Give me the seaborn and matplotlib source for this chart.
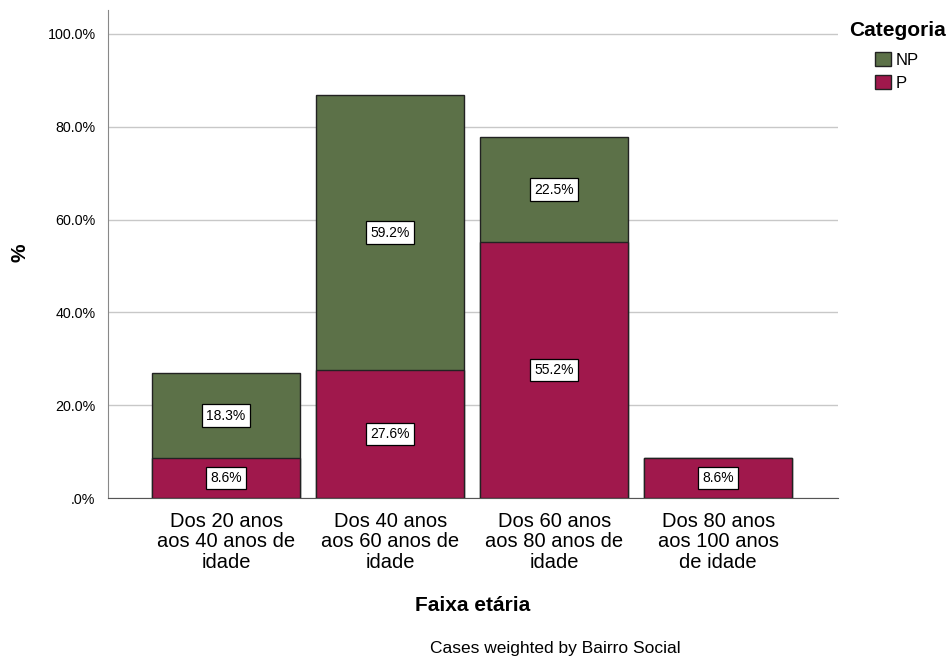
import numpy as np
import pandas as pd
import matplotlib
matplotlib.use('Agg')
import matplotlib.pyplot as plt
from matplotlib.patches import Patch
import seaborn as sns

#Data
faixas = ['Dos 20 anos\naos 40 anos de\nidade',
          'Dos 40 anos\naos 60 anos de\nidade',
          'Dos 60 anos\naos 80 anos de\nidade',
          'Dos 80 anos\naos 100 anos\nde idade']
p_vals = [8.6, 27.6, 55.2, 8.6]
np_vals = [18.3, 59.2, 22.5, 0.0]
y_ticks = [0, 20, 40, 60, 80, 100]
y_tick_labels = ['.0%', '20.0%', '40.0%', '60.0%', '80.0%', '100.0%']

green = '#5c7148'
crimson = '#a0184c'

df = pd.DataFrame({'faixa': faixas, 'P': p_vals, 'NP': np_vals})
df['total'] = df['P'] + df['NP']

sns.set_style('white')
plt.rcParams['font.family'] = ['Liberation Sans', 'DejaVu Sans']
plt.rcParams['text.color'] = 'black'
plt.rcParams['axes.labelcolor'] = 'black'
plt.rcParams['xtick.color'] = 'black'
plt.rcParams['ytick.color'] = 'black'

fig = plt.figure(figsize=(9.5, 6.57), dpi=100)
ax = fig.add_axes([0.1137, 0.242, 0.7684, 0.743])

#Stacked bars: total first (NP on top), then P over it
sns.barplot(data=df, x='faixa', y='total', color=green, width=0.9,
            edgecolor='#222222', linewidth=1, saturation=1, ax=ax, zorder=3)
sns.barplot(data=df, x='faixa', y='P', color=crimson, width=0.9,
            edgecolor='#222222', linewidth=1, saturation=1, ax=ax, zorder=4)

#Labels in each segment
box = dict(boxstyle='square,pad=0.3', fc='white', ec='black', lw=0.9)
for i, row in df.iterrows():
    if row['P'] > 0:
        ax.text(i, row['P'] / 2, f"{row['P']:.1f}%", ha='center', va='center',
                fontsize=10, bbox=box, zorder=5)
    if row['NP'] > 0:
        ax.text(i, row['P'] + row['NP'] / 2, f"{row['NP']:.1f}%", ha='center',
                va='center', fontsize=10, bbox=box, zorder=5)

ax.set_xlim(-0.72, 3.73)
ax.set_ylim(0, 105.2)
ax.set_yticks(y_ticks)
ax.set_yticklabels(y_tick_labels, fontsize=10.3)
ax.tick_params(axis='x', labelsize=14.5, length=0, pad=10)
ax.tick_params(axis='y', length=0, pad=9)
for t in ax.get_xticklabels():
    t.set_linespacing(1.1)
ax.yaxis.grid(True, color='#c8c8c8', lw=1, zorder=0)
ax.set_axisbelow(True)

for s in ['top', 'right']:
    ax.spines[s].set_visible(False)
ax.spines['left'].set_color('#888888')
ax.spines['bottom'].set_color('#555555')

ax.set_xlabel('Faixa etária', fontsize=15, fontweight='bold', labelpad=17)
ax.set_ylabel('')
fig.text(20 / 950, 1 - 253 / 657, '%', rotation=90, ha='center', va='center',
         fontsize=15, fontweight='bold')

#Legend: title drawn on its own, entries placed under it
fig.text(897 / 950, 1 - 30 / 657, 'Categoria', ha='center', va='center',
         fontsize=15, fontweight='bold')
handles = [Patch(facecolor=green, edgecolor='#222222', label='NP'),
           Patch(facecolor=crimson, edgecolor='#222222', label='P')]
leg = fig.legend(handles=handles, loc='upper left',
                 bbox_to_anchor=(875 / 950, 1 - 52 / 657), frameon=False, fontsize=12,
                 handlelength=0.95, handleheight=0.95, handletextpad=0.3,
                 labelspacing=0.4, borderpad=0, borderaxespad=0)

fig.text(555 / 950, 1 - 648 / 657, 'Cases weighted by Bairro Social',
         ha='center', va='center', fontsize=12.5)

fig.savefig('out.png', dpi=100)
